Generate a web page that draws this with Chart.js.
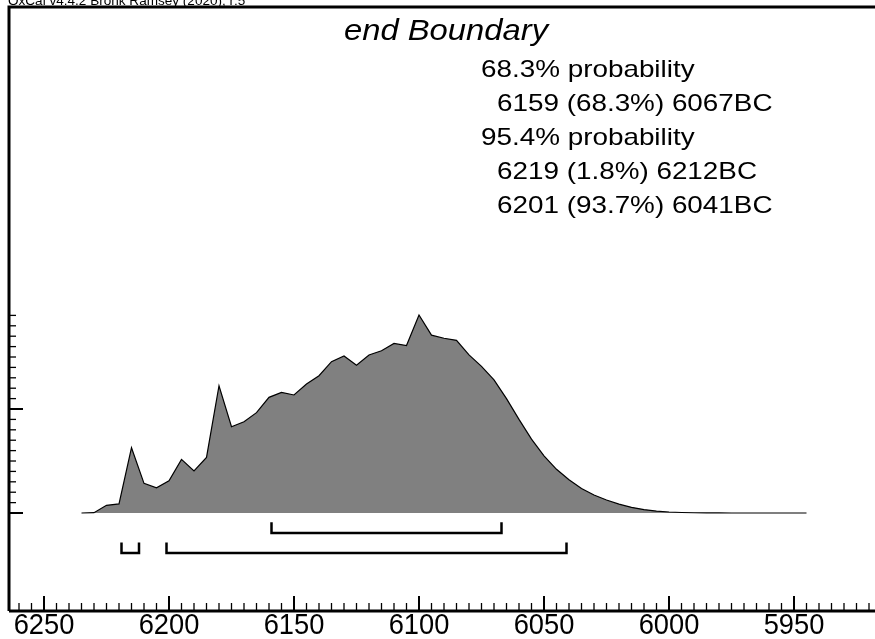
<!DOCTYPE html>
<html>
<head>
<meta charset="utf-8">
<script src="https://cdn.jsdelivr.net/npm/chart.js@4/dist/chart.umd.min.js"></script>
<style>
html,body{margin:0;padding:0;background:#fff;}
canvas{display:block;}
</style>
</head>
<body>
<canvas id="c" width="875" height="639"></canvas>
<script>
// ---- data (years BC, probability density in units of 1e-3) ----
const years = [6235,6230,6225,6220,6215,6210,6205,6200,6195,6190,6185,6180,6175,6170,6165,6160,6155,6150,6145,6140,6135,6130,6125,6120,6115,6110,6105,6100,6095,6090,6085,6080,6075,6070,6065,6060,6055,6050,6045,6040,6035,6030,6025,6020,6015,6010,6005,6000,5995,5990,5985,5980,5975,5970,5965,5960,5955,5950,5945];
const density = [0,0.03,0.74,0.87,6.28,2.85,2.43,3.1,5.16,4.04,5.35,12.24,8.3,8.78,9.65,11.12,11.6,11.35,12.4,13.2,14.55,15.1,14.2,15.2,15.6,16.3,16.1,19.04,17.1,16.8,16.6,15.2,14.1,12.8,11.0,9.0,7.1,5.5,4.2,3.2,2.35,1.73,1.25,0.85,0.55,0.33,0.19,0.1,0.05,0.025,0.012,0.006,0.003,0.002,0.001,0,0,0,0];
const range68 = [[6159,6067]];
const range95 = [[6219,6212],[6201,6041]];
const xTickLabels = [6250,6200,6150,6100,6050,6000,5950];
const headerText = "OxCal v4.4.2 Bronk Ramsey (2020); r:5";
const titleText = "end Boundary";
const summaryLines = [
  {text:"68.3% probability", indent:0},
  {text:"6159 (68.3%) 6067BC", indent:1},
  {text:"95.4% probability", indent:0},
  {text:"6219 (1.8%) 6212BC", indent:1},
  {text:"6201 (93.7%) 6041BC", indent:1}
];

// ---- build datasets ----
const curve = years.map((y,i)=>({x:y,y:density[i]}));
function bracketPoints(ranges, top, bottom){
  const pts=[];
  ranges.forEach((r,i)=>{
    if(i>0) pts.push({x:(ranges[i-1][1]+r[0])/2,y:null});
    pts.push({x:r[0],y:top},{x:r[0],y:bottom},{x:r[1],y:bottom},{x:r[1],y:top});
  });
  return pts;
}
const BR68 = {top:-1.0, bottom:-1.92};
const BR95 = {top:-2.95, bottom:-3.85};

const FONT = "'Liberation Sans', Arial, sans-serif";

const decor = {
  id:'decor',
  afterDraw(chart){
    const ctx = chart.ctx;
    const xs = chart.scales.x, ys = chart.scales.y;
    const a = chart.chartArea;
    ctx.save();
    ctx.strokeStyle='#000';
    ctx.lineCap='butt';
    // frame
    ctx.lineWidth=3;
    ctx.beginPath();
    ctx.moveTo(a.left, a.bottom); ctx.lineTo(a.left, a.top); ctx.lineTo(a.right, a.top);
    ctx.moveTo(a.left, a.bottom); ctx.lineTo(a.right, a.bottom);
    ctx.stroke();
    // x ticks every 5 years
    for(let yr=6260; yr>=5920; yr-=5){
      const px = xs.getPixelForValue(yr);
      const major = yr%50===0;
      ctx.lineWidth = major?2:1.3;
      ctx.beginPath();
      ctx.moveTo(px, a.bottom);
      ctx.lineTo(px, a.bottom-(major?15:8));
      ctx.stroke();
    }
    // y ticks
    const maxD = Math.floor(Math.max(...density));
    for(let v=0; v<=maxD; v++){
      const py = ys.getPixelForValue(v);
      const major = v%10===0;
      ctx.lineWidth = major?2:1.3;
      ctx.beginPath();
      ctx.moveTo(a.left, py);
      ctx.lineTo(a.left+(major?14:7), py);
      ctx.stroke();
    }
    // text
    ctx.fillStyle='#000';
    function txt(s, x, y, size, sx, align, style){
      ctx.save();
      ctx.font = (style||'') + ' ' + size + 'px ' + FONT;
      ctx.textAlign = align; ctx.textBaseline='middle';
      ctx.translate(x,y); ctx.scale(sx,1);
      ctx.fillText(s,0,0);
      ctx.restore();
    }
    xTickLabels.forEach(v=>{
      txt(String(v), xs.getPixelForValue(v), 626, 29, 0.94, 'center');
    });
    ctx.save();
    ctx.font = '12px ' + FONT;
    ctx.textAlign='left'; ctx.textBaseline='alphabetic';
    ctx.translate(8,5); ctx.scale(1.13,1);
    ctx.fillText(headerText,0,0);
    ctx.restore();
    txt(titleText, 446, 32, 29, 1.13, 'center', 'italic');
    summaryLines.forEach((l,i)=>{
      txt(l.text, 481 + l.indent*16, 70 + i*34, 24, 1.16, 'left');
    });
    ctx.restore();
  }
};

new Chart(document.getElementById('c'), {
  type:'line',
  data:{
    datasets:[
      {data:curve, borderColor:'#000', borderWidth:1.2, backgroundColor:'#808080', fill:'origin', pointRadius:0, tension:0, order:2},
      {data:bracketPoints(range68, BR68.top, BR68.bottom), borderColor:'#000', borderWidth:2.5, borderCapStyle:'square', fill:false, pointRadius:0, spanGaps:false, order:1},
      {data:bracketPoints(range95, BR95.top, BR95.bottom), borderColor:'#000', borderWidth:2.5, borderCapStyle:'square', fill:false, pointRadius:0, spanGaps:false, order:1}
    ]
  },
  options:{
    responsive:false,
    animation:false,
    devicePixelRatio:1,
    layout:{padding:{left:9, right:0, top:7, bottom:28}},
    plugins:{legend:{display:false}, tooltip:{enabled:false}, title:{display:false}},
    scales:{
      x:{type:'linear', reverse:true, min:5917.6, max:6264, display:false},
      y:{type:'linear', min:-9.42, max:48.65, display:false}
    }
  },
  plugins:[decor]
});
</script>
</body>
</html>
